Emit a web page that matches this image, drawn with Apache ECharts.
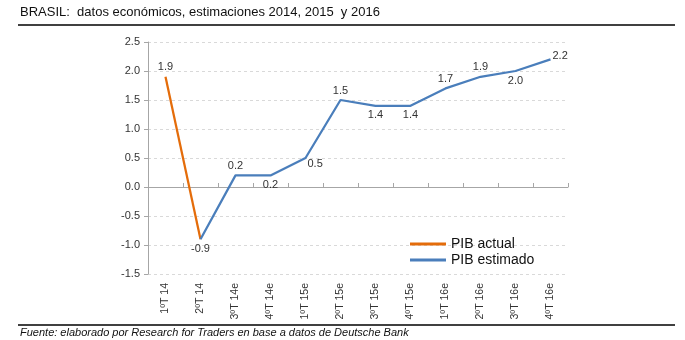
<!DOCTYPE html>
<html><head><meta charset="utf-8">
<script src="https://cdn.jsdelivr.net/npm/echarts@6/dist/echarts.min.js"></script>
<style>html,body{margin:0;padding:0;background:#fff;}#c{width:685px;height:340px;}</style>
</head><body><div id="c"></div>
<script>
var categories = ['1ºT 14','2ºT 14','3ºT 14e','4ºT 14e','1ºT 15e','2ºT 15e','3ºT 15e','4ºT 15e','1ºT 16e','2ºT 16e','3ºT 16e','4ºT 16e'];
var pibActual = [1.9, -0.9, null, null, null, null, null, null, null, null, null, null];
var pibEstimado = [null, -0.9, 0.2, 0.2, 0.5, 1.5, 1.4, 1.4, 1.7, 1.9, 2.0, 2.2];
var labelPosActual = ['top', 'bottom'];
var labelPosEstimado = [null, null, 'top', 'bottom', 'rightBelow', 'top', 'bottom', 'bottom', 'top', 'top', 'bottom', 'right'];
var titleText = 'BRASIL:  datos económicos, estimaciones 2014, 2015  y 2016';
var sourceText = 'Fuente: elaborado por Research for Traders en base a datos de Deutsche Bank';

var font = 'Liberation Sans, Arial, sans-serif';
function mkData(vals, pos) {
  return vals.map(function (v, i) {
    if (v === null) return null;
    var p = pos[i];
    var lbl = { show: !!p, position: p || 'top', distance: 4 };
    if (p === 'rightBelow') { lbl.position = 'right'; lbl.offset = [0, 6]; lbl.distance = 2; }
    if (p === 'right') { lbl.offset = [0, -3]; lbl.distance = 2; }
    return { value: v, label: lbl };
  });
}
var chart = echarts.init(document.getElementById('c'), null, { renderer: 'canvas' });
chart.setOption({
  animation: false,
  textStyle: { fontFamily: font },
  grid: { left: 148, right: 117, top: 42, bottom: 66, containLabel: false, outerBoundsMode: 'none' },
  legend: {
    orient: 'vertical', left: 405, top: 232, itemWidth: 36, itemHeight: 3, itemGap: 2,
    icon: 'rect',
    textStyle: { fontSize: 14, color: '#111', fontFamily: font },
    data: ['PIB actual', 'PIB estimado']
  },
  xAxis: [{
    type: 'category', data: categories, boundaryGap: true, position: 'bottom',
    axisLine: { show: false, onZero: false },
    axisTick: { show: false },
    axisLabel: { rotate: 90, margin: 9, fontSize: 10.5, color: '#333', fontFamily: font, interval: 0 }
  }, {
    type: 'category', data: categories, boundaryGap: true, position: 'top',
    axisLine: { show: true, onZero: true, lineStyle: { color: '#a6a6a6' } },
    axisTick: { show: true, length: 4, interval: 0, lineStyle: { color: '#a6a6a6' } },
    axisLabel: { show: false, interval: 0 }
  }],
  yAxis: {
    type: 'value', min: -1.5, max: 2.5, interval: 0.5,
    axisLine: { show: true, lineStyle: { color: '#a6a6a6' } },
    axisTick: { show: true, length: 4, lineStyle: { color: '#a6a6a6' } },
    axisLabel: { fontSize: 11, color: '#333', margin: 8, fontFamily: font, formatter: function (v) { return v.toFixed(1); } },
    splitLine: { show: true, lineStyle: { color: '#d9d9d9', type: [3, 3] } }
  },
  series: [
    { name: 'PIB actual', type: 'line', data: mkData(pibActual, labelPosActual), symbol: 'circle', symbolSize: 0, showSymbol: true,
      lineStyle: { color: '#E46C0A', width: 2.25 }, itemStyle: { color: '#E46C0A' },
      label: { show: true, fontSize: 11, color: '#333', fontFamily: font, formatter: function (p) { return p.value.toFixed(1); } } },
    { name: 'PIB estimado', type: 'line', data: mkData(pibEstimado, labelPosEstimado), symbol: 'circle', symbolSize: 0, showSymbol: true,
      lineStyle: { color: '#4A7EBB', width: 2.25 }, itemStyle: { color: '#4A7EBB' },
      label: { show: true, fontSize: 11, color: '#333', fontFamily: font, formatter: function (p) { return p.value.toFixed(1); } } }
  ],
  graphic: [
    { type: 'text', left: 20, top: 6, style: { text: titleText, font: '13px Liberation Sans, Arial, sans-serif', fill: '#111' } },
    { type: 'line', shape: { x1: 18, y1: 25, x2: 675, y2: 25 }, style: { stroke: '#000', lineWidth: 1.5 } },
    { type: 'line', shape: { x1: 18, y1: 325, x2: 675, y2: 325 }, style: { stroke: '#000', lineWidth: 1.5 } },
    { type: 'text', left: 20, top: 327, style: { text: sourceText, font: 'italic 11px Liberation Sans, Arial, sans-serif', fill: '#111' } }
  ]
});
</script></body></html>
